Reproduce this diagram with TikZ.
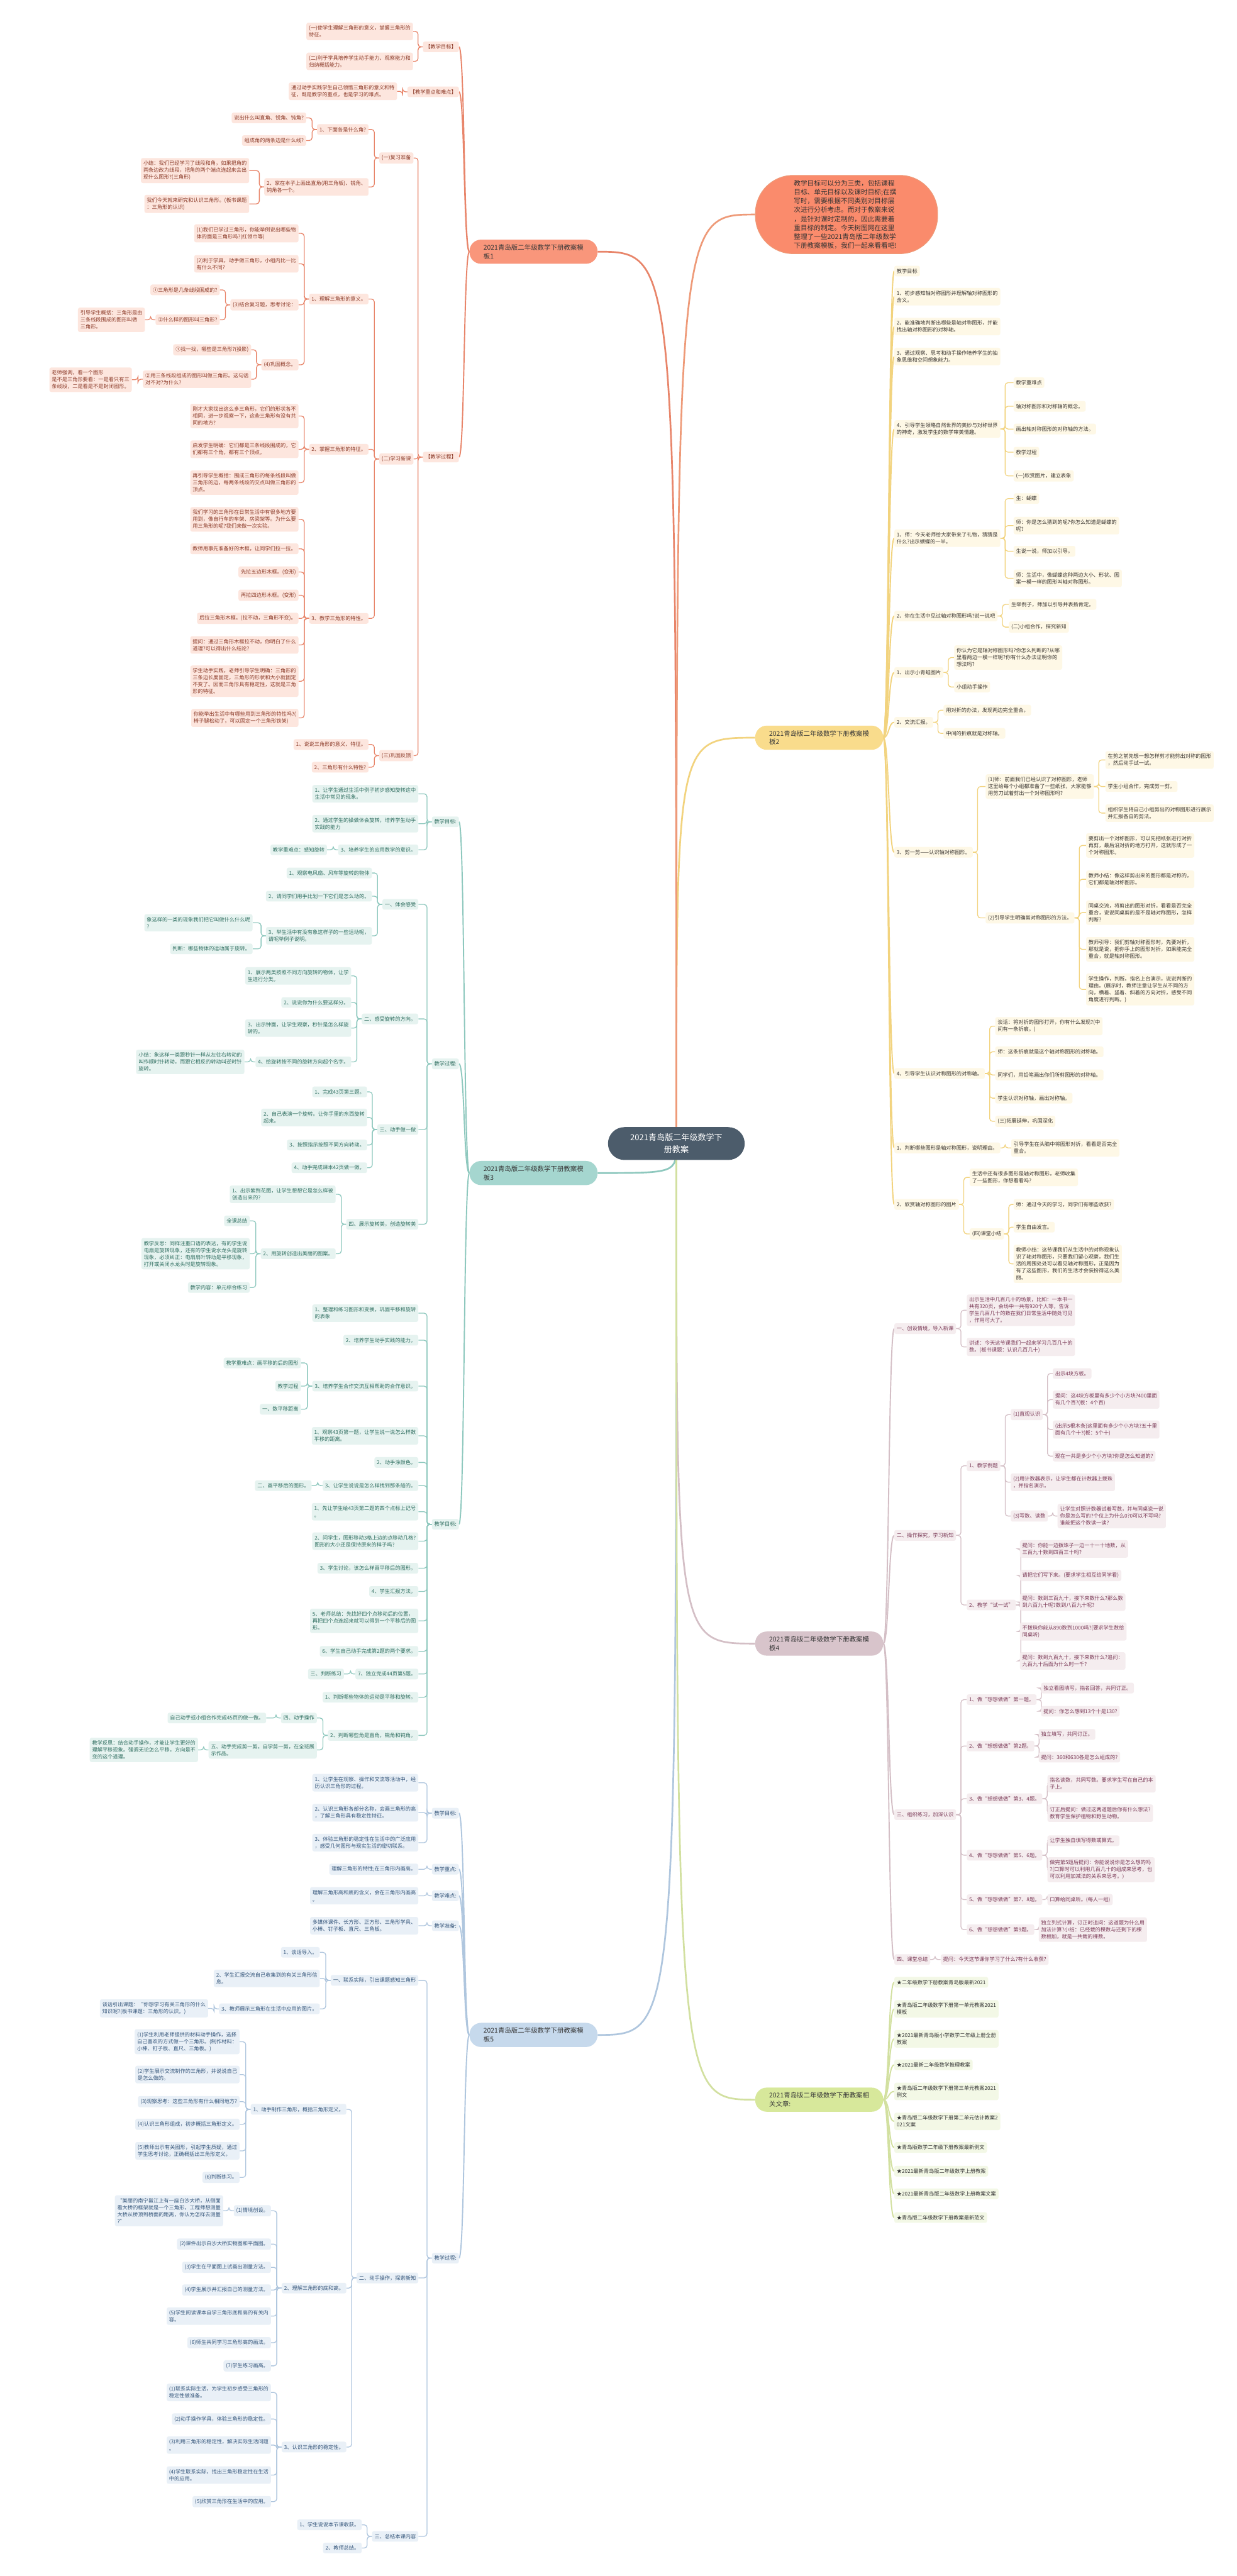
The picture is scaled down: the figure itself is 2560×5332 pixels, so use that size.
\documentclass[tikz,border=0pt]{standalone}
\usepackage{fontspec}
\setmainfont{Noto Sans CJK SC}
\usetikzlibrary{backgrounds}
\definecolor{b1f}{HTML}{FDE6DE}\definecolor{b1t}{HTML}{8B3A28}\definecolor{b1l}{HTML}{E8856A}\definecolor{b1n}{HTML}{F9967B}
\definecolor{b3f}{HTML}{E6F3F0}\definecolor{b3t}{HTML}{2F6E60}\definecolor{b3l}{HTML}{8EC8BE}\definecolor{b3n}{HTML}{A5D6CF}
\definecolor{b5f}{HTML}{E9F0F7}\definecolor{b5t}{HTML}{34557A}\definecolor{b5l}{HTML}{AFC6DE}\definecolor{b5n}{HTML}{C6D9EC}
\definecolor{b2f}{HTML}{FEF8E6}\definecolor{b2t}{HTML}{3A3530}\definecolor{b2l}{HTML}{F2D37E}\definecolor{b2n}{HTML}{F9DC8C}
\definecolor{b4f}{HTML}{F5EDEF}\definecolor{b4t}{HTML}{7B3A57}\definecolor{b4l}{HTML}{D4BFC6}\definecolor{b4n}{HTML}{D8C4CB}
\definecolor{b6f}{HTML}{F3F8E6}\definecolor{b6t}{HTML}{333333}\definecolor{b6l}{HTML}{D2E0A0}\definecolor{b6n}{HTML}{D7E89B}
\definecolor{cen}{HTML}{4C5C6B}\definecolor{introf}{HTML}{FA8B6C}\definecolor{introd}{HTML}{EE9A78}
\tikzset{
 mmbox/.style={rectangle, rounded corners=4pt, inner xsep=5pt, inner ysep=6pt, align=left, font=\fontsize{10.7}{14.3}\selectfont},
 B1/.style={mmbox, fill=b1f, text=b1t}, B3/.style={mmbox, fill=b3f, text=b3t}, B5/.style={mmbox, fill=b5f, text=b5t},
 B2/.style={mmbox, fill=b2f, text=b2t}, B4/.style={mmbox, fill=b4f, text=b4t}, B6/.style={mmbox, fill=b6f, text=b6t},
 L1/.style={B1, anchor=east}, L3/.style={B3, anchor=east}, L5/.style={B5, anchor=east},
 R2/.style={B2, anchor=west}, R4/.style={B4, anchor=west}, R6/.style={B6, anchor=west},
 brn/.style={rectangle, rounded corners=24pt, inner xsep=26pt, inner ysep=8pt, minimum width=265pt, minimum height=50pt, align=left, text=black!78, font=\fontsize{13.6}{18}\selectfont},
 k1/.style={draw=b1l, line width=1.7pt, rounded corners=6pt}, k3/.style={draw=b3l, line width=1.7pt, rounded corners=6pt}, k5/.style={draw=b5l, line width=1.7pt, rounded corners=6pt},
 k2/.style={draw=b2l, line width=1.7pt, rounded corners=6pt}, k4/.style={draw=b4l, line width=1.7pt, rounded corners=6pt}, k6/.style={draw=b6l, line width=1.7pt, rounded corners=6pt},
}
\newcommand\lbr[3]{\draw[#1] (#2.west) -- ++(-10,0) |- (#3.east);}
\newcommand\rbr[3]{\draw[#1] (#2.east) -- ++(10,0) |- (#3.west);}
\newcommand\lcv[3]{\draw[#1, line width=2.5pt] (#2.west) .. controls +(-12,0) and +(12,0) .. (#3.east);}
\newcommand\rcv[3]{\draw[#1, line width=2.5pt] (#2.east) .. controls +(12,0) and +(-12,0) .. (#3.west);}
\newcommand\ccv[2]{\draw[#1, line width=3.5pt] (center.center) .. controls (center.center |- #2) .. (#2);}
\begin{document}
\begin{tikzpicture}[x=1pt,y=-1pt]
\useasboundingbox (0,0) rectangle (2560,5332);
\begin{pgfonlayer}{background}
\fill[white] (0,0) rectangle (2560,5332);
\end{pgfonlayer}
% center
\node[rectangle, rounded corners=34pt, fill=cen, text=white, minimum width=283pt, minimum height=68pt, align=center, font=\fontsize{17}{25}\selectfont] (center) at (1400,2367) {2021青岛版二年级数学下\\册教案};
% branch nodes
\node[brn, fill=b1n, anchor=east] (br1) at (1237,521) {2021青岛版二年级数学下册教案模\\板1};
\node[brn, fill=b3n, anchor=east] (br3) at (1237,2428) {2021青岛版二年级数学下册教案模\\板3};
\node[brn, fill=b5n, anchor=east] (br5) at (1237,4212) {2021青岛版二年级数学下册教案模\\板5};
\node[brn, fill=b2n, anchor=west] (br2) at (1563,1527) {2021青岛版二年级数学下册教案模\\板2};
\node[brn, fill=b4n, anchor=west] (br4) at (1563,3402) {2021青岛版二年级数学下册教案模\\板4};
\node[brn, fill=b6n, anchor=west] (br6) at (1563,4346) {2021青岛版二年级数学下册教案相\\关文章:};
\node[rectangle, rounded corners=78pt, fill=introf, draw=introd, line width=1.5pt, minimum width=377pt, minimum height=162pt, text width=218pt, align=left, font=\fontsize{13.9}{18.5}\selectfont, text=black!80, anchor=west] (intro) at (1563,444) {教学目标可以分为三类，包括课程\\目标、单元目标以及课时目标;在撰\\写时，需要根据不同类别对目标层\\次进行分析考虑。而对于教案来说\\，是针对课时定制的，因此需要着\\重目标的制定。今天树图网在这里\\整理了一些2021青岛版二年级数学\\下册教案模板，我们一起来看看吧!};
\begin{pgfonlayer}{background}
\ccv{b1l}{br1.east}\ccv{b3l}{br3.east}\ccv{b5l}{br5.east}
\ccv{b2l}{br2.west}\ccv{b4l}{br4.west}\ccv{b6l}{br6.west}\ccv{introd}{intro.west}
\end{pgfonlayer}

% ================= Branch 1 =================
\node[L1] (p1g) at (950,97) {【教学目标】};
\node[L1] (p1k) at (950,190) {【教学重点和难点】};
\node[L1] (p1p) at (950,946) {【教学过程】};
\node[L1] (g1) at (855,65) {(一)使学生理解三角形的意义，掌握三角形的\\特征。};
\node[L1] (g2) at (855,127) {(二)利于学具培养学生动手能力、观察能力和\\归纳概括能力。};
\node[L1] (k1) at (822,189) {通过动手实践学生自己领悟三角形的意义和特\\征，既是教学的重点，也是学习的难点。};
\node[L1] (s1) at (856,327) {(一)复习准备};
\node[L1] (s2) at (856,950) {(二)学习新课};
\node[L1] (s3) at (856,1564) {(三)巩固反馈};
\node[L1] (s1a) at (763,268) {1、下面各是什么角?};
\node[L1] (s1b) at (763,387) {2、家在本子上画出直角(用三角板)、锐角、\\钝角各一个。};
\node[L1] (s1a1) at (634,244) {说出什么叫直角、锐角、钝角?};
\node[L1] (s1a2) at (634,291) {组成角的两条边是什么线?};
\node[L1] (s1b1) at (516,353) {小结：我们已经学习了线段和角，如果把角的\\两条边改为线段，把角的两个端点连起来会出\\现什么图形?(三角形)};
\node[L1] (s1b2) at (516,422) {我们今天就来研究和认识三角形。(板书课题\\：三角形的认识)};
\node[L1] (s2a) at (763,619) {1、理解三角形的意义。};
\node[L1] (s2b) at (763,930) {2、掌握三角形的特征。};
\node[L1] (s2c) at (763,1280) {3、教学三角形的特性。};
\node[L1] (s2a1) at (618,483) {(1)我们已学过三角形，你能举例说出哪些物\\体的面是三角形吗?(红领巾等)};
\node[L1] (s2a2) at (618,546) {(2)利于学具，动手做三角形，小组内比一比\\有什么不同?};
\node[L1] (s2a3) at (618,631) {(3)结合复习题，思考讨论：};
\node[L1] (s2a4) at (618,755) {(4)巩固概念。};
\node[L1] (s2a3a) at (455,600) {①三角形是几条线段围成的?};
\node[L1] (s2a3b) at (455,662) {②什么样的图形叫三角形?};
\node[L1] (s2a3b1) at (300,662) {引导学生概括：三角形是由\\三条线段围成的图形叫做\\三角形。};
\node[L1] (s2a4a) at (520,724) {①找一找，哪些是三角形?(投影)};
\node[L1] (s2a4b) at (520,785) {②用三条线段组成的图形叫做三角形。这句话\\对不对?为什么?};
\node[L1] (s2a4b1) at (273,786) {老师强调，看一个图形\\是不是三角形要看：一是看只有三\\条线段，二是看是不是封闭图形。};
\node[L1] (s2b1) at (618,861) {刚才大家找出这么多三角形，它们的形状各不\\相同，进一步观察一下，这些三角形有没有共\\同的地方?};
\node[L1] (s2b2) at (618,930) {启发学生明确：它们都是三条线段围成的，它\\们都有三个角，都有三个顶点。};
\node[L1] (s2b3) at (618,999) {再引导学生概括：围成三角形的每条线段叫做\\三角形的边，每两条线段的交点叫做三角形的\\顶点。};
\node[L1] (c1) at (618,1075) {我们学习的三角形在日常生活中有很多地方要\\用到，像自行车的车架、房梁架等。为什么要\\用三角形的呢?我们来做一次实验。};
\node[L1] (c2) at (618,1136) {教师用事先准备好的木框，让同学们拉一拉。};
\node[L1] (c3) at (618,1184) {先拉五边形木框。(变形)};
\node[L1] (c4) at (618,1232) {再拉四边形木框。(变形)};
\node[L1] (c5) at (618,1280) {后拉三角形木框。(拉不动，三角形不变)。};
\node[L1] (c6) at (618,1335) {提问：通过三角形木框拉不动，你明白了什么\\道理?可以得出什么结论?};
\node[L1] (c7) at (618,1410) {学生动手实践，老师引导学生明确：三角形的\\三条边长度固定，三角形的形状和大小就固定\\不变了。因而三角形具有稳定性，这就是三角\\形的特征。};
\node[L1] (c8) at (618,1486) {你能举出生活中有哪些用到三角形的特性吗?(\\椅子腿松动了，可以固定一个三角形铁架)};
\node[L1] (s3a) at (763,1541) {1、说说三角形的意义、特征。};
\node[L1] (s3b) at (763,1588) {2、三角形有什么特性?};
\begin{pgfonlayer}{background}
\lcv{b1l}{br1}{p1g}\lcv{b1l}{br1}{p1k}\lcv{b1l}{br1}{p1p}
\lbr{k1}{p1g}{g1}\lbr{k1}{p1g}{g2}\lbr{k1}{p1k}{k1}
\lbr{k1}{p1p}{s1}\lbr{k1}{p1p}{s2}\lbr{k1}{p1p}{s3}
\lbr{k1}{s1}{s1a}\lbr{k1}{s1}{s1b}\lbr{k1}{s1a}{s1a1}\lbr{k1}{s1a}{s1a2}\lbr{k1}{s1b}{s1b1}\lbr{k1}{s1b}{s1b2}
\lbr{k1}{s2}{s2a}\lbr{k1}{s2}{s2b}\lbr{k1}{s2}{s2c}
\lbr{k1}{s2a}{s2a1}\lbr{k1}{s2a}{s2a2}\lbr{k1}{s2a}{s2a3}\lbr{k1}{s2a}{s2a4}
\lbr{k1}{s2a3}{s2a3a}\lbr{k1}{s2a3}{s2a3b}\lbr{k1}{s2a3b}{s2a3b1}
\lbr{k1}{s2a4}{s2a4a}\lbr{k1}{s2a4}{s2a4b}\lbr{k1}{s2a4b}{s2a4b1}
\lbr{k1}{s2b}{s2b1}\lbr{k1}{s2b}{s2b2}\lbr{k1}{s2b}{s2b3}
\foreach \n in {c1,c2,c3,c4,c5,c6,c7,c8}{\lbr{k1}{s2c}{\n}}
\lbr{k1}{s3}{s3a}\lbr{k1}{s3}{s3b}
\end{pgfonlayer}

% ================= Branch 3 =================
\node[L3] (tg) at (950,1701) {教学目标:};
\node[L3] (tp) at (950,2202) {教学过程:};
\node[L3] (tg2) at (950,3155) {教学目标:};
\node[L3] (tg1) at (866,1643) {1、让学生通过生活中例子初步感知旋转这中\\生活中常见的现象。};
\node[L3] (tg2x) at (866,1705) {2、通过学生的操做体会旋转，培养学生动手\\实践的能力};
\node[L3] (tg3) at (866,1759) {3、培养学生的应用数学的意识。};
\node[L3] (tg3a) at (677,1759) {教学重难点：感知旋转};
\node[L3] (tp1) at (866,1872) {一、体会感受};
\node[L3] (tp2) at (866,2109) {二、感受旋转的方向。};
\node[L3] (tp3) at (866,2338) {三、动手做一做};
\node[L3] (tp4) at (866,2534) {四、展示旋转美，创造旋转美};
\node[L3] (tp1a) at (770,1807) {1、观察电风扇、风车等旋转的物体};
\node[L3] (tp1b) at (770,1855) {2、请同学们用手比划一下它们是怎么动的。};
\node[L3] (tp1c) at (770,1937) {3、举生活中有没有象这样子的一些运动呢，\\请呢举例子说明。};
\node[L3] (tp1c1) at (523,1910) {象这样的一类的现象我们把它叫做什么什么呢\\?};
\node[L3] (tp1c2) at (523,1964) {判断：哪些物体的运动属于旋转。};
\node[L3] (tp2a) at (727,2020) {1、展示两类按照不同方向旋转的物体，让学\\生进行分类。};
\node[L3] (tp2b) at (727,2075) {2、说说你为什么要这样分。};
\node[L3] (tp2c) at (727,2128) {3、出示钟面，让学生观察，秒针是怎么样旋\\转的。};
\node[L3] (tp2d) at (727,2198) {4、给旋转按不同的旋转方向起个名字。};
\node[L3] (tp2d1) at (506,2198) {小结：象这样一类跟秒针一样从左往右转动的\\叫作顺时针转动，而跟它相反的转动叫逆时针\\旋转。};
\node[L3] (tp3a) at (760,2260) {1、完成43页第三题。};
\node[L3] (tp3b) at (760,2313) {2、自己表演一个旋转。让你手里的东西旋转\\起来。};
\node[L3] (tp3c) at (760,2370) {3、按照指示按照不同方向转动。};
\node[L3] (tp3d) at (760,2417) {4、动手完成课本42页做一做。};
\node[L3] (tp4a) at (695,2472) {1、出示紫荆花图，让学生想想它是怎么样被\\创造出来的?};
\node[L3] (tp4b) at (695,2595) {2、用旋转创造出美丽的图案。};
\node[L3] (tp4b1) at (517,2527) {全课总结};
\node[L3] (tp4b2) at (517,2595) {教学反思：同样注重口语的表达，有的学生说\\电扇是旋转现象，还有的学生说水龙头是旋转\\现象，必须纠正：电扇扇叶转动是平移现象，\\打开或关闭水龙头时是旋转现象。};
\node[L3] (tp4b3) at (517,2665) {教学内容：单元综合练习};
\node[L3] (u1) at (866,2718) {1、整理和练习图形和变换，巩固平移和旋转\\的表象};
\node[L3] (u2) at (866,2774) {2、培养学生动手实践的能力。};
\node[L3] (u3) at (866,2869) {3、培养学生合作交流互相帮助的合作意识。};
\node[L3] (u3a) at (623,2821) {教学重难点：画平移的后的图形};
\node[L3] (u3b) at (623,2869) {教学过程};
\node[L3] (u3c) at (623,2917) {一、数平移距离};
\node[L3] (u4) at (866,2972) {1、观察43页第一题，让学生说一说怎么样数\\平移的距离。};
\node[L3] (u5) at (866,3027) {2、动手涂颜色。};
\node[L3] (u6) at (866,3075) {3、让学生说说是怎么样找到那条船的。};
\node[L3] (u6a) at (645,3075) {二、画平移后的图形。};
\node[L3] (u7) at (866,3129) {1、先让学生给43页第二题的四个点标上记号\\。};
\node[L3] (u8) at (866,3190) {2、问学生，图形移动3格上边的点移动几格?\\图形的大小还是保持原来的样子吗?};
\node[L3] (u9) at (866,3246) {3、学生讨论，该怎么样画平移后的图形。};
\node[L3] (u10) at (866,3294) {4、学生汇报方法。};
\node[L3] (u11) at (866,3355) {5、老师总结：先找好四个点移动后的位置，\\再把四个点连起来就可以得到一个平移后的图\\形。};
\node[L3] (u12) at (866,3418) {6、学生自己动手完成第2题的两个要求。};
\node[L3] (u13) at (866,3465) {7、独立完成44页第5题。};
\node[L3] (u13a) at (712,3465) {三、判断练习};
\node[L3] (u14) at (866,3513) {1、判断哪些物体的运动是平移和旋转。};
\node[L3] (u15) at (866,3592) {2、判断哪些角是直角，锐角和钝角。};
\node[L3] (u15a) at (656,3556) {四、动手操作};
\node[L3] (u15a1) at (551,3556) {自己动手或小组合作完成45页的做一做。};
\node[L3] (u15b) at (656,3622) {五、动手完成剪一剪。自学剪一剪，在全班展\\示作品。};
\node[L3] (u15b1) at (410,3622) {教学反思：结合动手操作，才能让学生更好的\\理解平移现象。强调无论怎么平移，方向是不\\变的这个道理。};
\begin{pgfonlayer}{background}
\lcv{b3l}{br3}{tg}\lcv{b3l}{br3}{tp}\lcv{b3l}{br3}{tg2}
\lbr{k3}{tg}{tg1}\lbr{k3}{tg}{tg2x}\lbr{k3}{tg}{tg3}\lbr{k3}{tg3}{tg3a}
\lbr{k3}{tp}{tp1}\lbr{k3}{tp}{tp2}\lbr{k3}{tp}{tp3}\lbr{k3}{tp}{tp4}
\lbr{k3}{tp1}{tp1a}\lbr{k3}{tp1}{tp1b}\lbr{k3}{tp1}{tp1c}\lbr{k3}{tp1c}{tp1c1}\lbr{k3}{tp1c}{tp1c2}
\lbr{k3}{tp2}{tp2a}\lbr{k3}{tp2}{tp2b}\lbr{k3}{tp2}{tp2c}\lbr{k3}{tp2}{tp2d}\lbr{k3}{tp2d}{tp2d1}
\lbr{k3}{tp3}{tp3a}\lbr{k3}{tp3}{tp3b}\lbr{k3}{tp3}{tp3c}\lbr{k3}{tp3}{tp3d}
\lbr{k3}{tp4}{tp4a}\lbr{k3}{tp4}{tp4b}\lbr{k3}{tp4b}{tp4b1}\lbr{k3}{tp4b}{tp4b2}\lbr{k3}{tp4b}{tp4b3}
\foreach \n in {u1,u2,u3,u4,u5,u6,u7,u8,u9,u10,u11,u12,u13,u14,u15}{\lbr{k3}{tg2}{\n}}
\lbr{k3}{u3}{u3a}\lbr{k3}{u3}{u3b}\lbr{k3}{u3}{u3c}\lbr{k3}{u6}{u6a}\lbr{k3}{u13}{u13a}
\lbr{k3}{u15}{u15a}\lbr{k3}{u15}{u15b}\lbr{k3}{u15a}{u15a1}\lbr{k3}{u15b}{u15b1}
\end{pgfonlayer}

% ================= Branch 5 =================
\node[L5] (vg) at (950,3753) {教学目标:};
\node[L5] (vk) at (950,3869) {教学重点:};
\node[L5] (vd) at (950,3924) {教学难点:};
\node[L5] (vp) at (950,3986) {教学准备:};
\node[L5] (vq) at (950,4674) {教学过程:};
\node[L5] (vg1) at (866,3690) {1、让学生在观察、操作和交流等活动中，经\\历认识三角形的过程。};
\node[L5] (vg2) at (866,3752) {2、认识三角形各部分名称，会画三角形的高\\，了解三角形具有稳定性特征。};
\node[L5] (vg3) at (866,3814) {3、体验三角形的稳定性在生活中的广泛应用\\，感受几何图形与现实生活的密切联系。};
\node[L5] (vk1) at (866,3869) {理解三角形的特性;在三角形内画高。};
\node[L5] (vd1) at (866,3924) {理解三角形高和底的含义，会在三角形内画高\\。};
\node[L5] (vp1) at (866,3986) {多媒体课件、长方形、正方形、三角形学具、\\小棒、钉子板、直尺、三角板。};
\node[L5] (vq1) at (866,4099) {一、联系实际，引出课题感知三角形};
\node[L5] (vq2) at (866,4715) {二、动手操作，探索新知};
\node[L5] (vq3) at (866,5250) {三、总结本课内容};
\node[L5] (vq1a) at (662,4041) {1、谈话导入。};
\node[L5] (vq1b) at (662,4095) {2、学生汇报交流自己收集到的有关三角形信\\息。};
\node[L5] (vq1c) at (662,4158) {3、教师展示三角形在生活中应用的图片。};
\node[L5] (vq1c1) at (431,4157) {谈话引出课题：“你想学习有关三角形的什么\\知识呢?(板书课题：三角形的认识。)};
\node[L5] (vq2a) at (717,4366) {1、动手制作三角形，概括三角形定义。};
\node[L5] (a1) at (496,4226) {(1)学生利用老师提供的材料动手操作，选择\\自己喜欢的方式做一个三角形。(制作材料：\\小棒、钉子板、直尺、三角板。)};
\node[L5] (a2) at (496,4294) {(2)学生展示交流制作的三角形，并说说自己\\是怎么做的。};
\node[L5] (a3) at (496,4350) {(3)观察思考：这些三角形有什么相同地方?};
\node[L5] (a4) at (496,4397) {(4)认识三角形组成，初步概括三角形定义。};
\node[L5] (a5) at (496,4452) {(5)教师出示有关图形，引起学生质疑，通过\\学生思考讨论，正确概括出三角形定义。};
\node[L5] (a6) at (496,4507) {(6)判断练习。};
\node[L5] (vq2b) at (717,4736) {2、理解三角形的底和高。};
\node[L5] (bb1) at (561,4576) {(1)情境创设。};
\node[L5] (bb1a) at (462,4576) {“美丽的南宁邕江上有一座白沙大桥，从侧面\\看大桥的框架就是一个三角形，工程师想测量\\大桥从桥顶到桥面的距离，你认为怎样去测量\\?”};
\node[L5] (bb2) at (561,4645) {(2)课件出示白沙大桥实物图和平面图。};
\node[L5] (bb3) at (561,4693) {(3)学生在平面图上试画出测量方法。};
\node[L5] (bb4) at (561,4740) {(4)学生展示并汇报自己的测量方法。};
\node[L5] (bb5) at (561,4794) {(5)学生阅读课本自学三角形底和高的有关内\\容。};
\node[L5] (bb6) at (561,4849) {(6)师生共同学习三角形高的画法。};
\node[L5] (bb7) at (561,4897) {(7)学生练习画高。};
\node[L5] (vq2c) at (717,5065) {3、认识三角形的稳定性。};
\node[L5] (cc1) at (561,4952) {(1)联系实际生活，为学生初步感受三角形的\\稳定性做准备。};
\node[L5] (cc2) at (561,5007) {(2)动手操作学具，体验三角形的稳定性。};
\node[L5] (cc3) at (561,5061) {(3)利用三角形的稳定性，解决实际生活问题\\。};
\node[L5] (cc4) at (561,5123) {(4)学生联系实际，找出三角形稳定性在生活\\中的应用。};
\node[L5] (cc5) at (561,5178) {(5)欣赏三角形在生活中的应用。};
\node[L5] (vq3a) at (749,5226) {1、学生说说本节课收获。};
\node[L5] (vq3b) at (749,5274) {2、教师总结。};
\begin{pgfonlayer}{background}
\lcv{b5l}{br5}{vg}\lcv{b5l}{br5}{vk}\lcv{b5l}{br5}{vd}\lcv{b5l}{br5}{vp}\lcv{b5l}{br5}{vq}
\lbr{k5}{vg}{vg1}\lbr{k5}{vg}{vg2}\lbr{k5}{vg}{vg3}\lbr{k5}{vk}{vk1}\lbr{k5}{vd}{vd1}\lbr{k5}{vp}{vp1}
\lbr{k5}{vq}{vq1}\lbr{k5}{vq}{vq2}\lbr{k5}{vq}{vq3}
\lbr{k5}{vq1}{vq1a}\lbr{k5}{vq1}{vq1b}\lbr{k5}{vq1}{vq1c}\lbr{k5}{vq1c}{vq1c1}
\lbr{k5}{vq2}{vq2a}\lbr{k5}{vq2}{vq2b}\lbr{k5}{vq2}{vq2c}
\foreach \n in {a1,a2,a3,a4,a5,a6}{\lbr{k5}{vq2a}{\n}}
\foreach \n in {bb1,bb2,bb3,bb4,bb5,bb6,bb7}{\lbr{k5}{vq2b}{\n}}
\lbr{k5}{bb1}{bb1a}
\foreach \n in {cc1,cc2,cc3,cc4,cc5}{\lbr{k5}{vq2c}{\n}}
\lbr{k5}{vq3}{vq3a}\lbr{k5}{vq3}{vq3b}
\end{pgfonlayer}

% ================= Branch 2 =================
\node[R2] (yg) at (1851,561) {教学目标};
\node[R2] (y1) at (1851,614) {1、初步感知轴对称图形并理解轴对称图形的\\含义。};
\node[R2] (y2) at (1851,676) {2、能准确地判断出哪些是轴对称图形，并能\\找出轴对称图形的对称轴。};
\node[R2] (y3) at (1851,738) {3、通过观察、思考和动手操作培养学生的抽\\象思维和空间想象能力。};
\node[R2] (y4) at (1851,888) {4、引导学生领略自然世界的美妙与对称世界\\的神奇，激发学生的数学审美情趣。};
\node[R2] (y4a) at (2098,792) {教学重难点};
\node[R2] (y4b) at (2098,841) {轴对称图形和对称轴的概念。};
\node[R2] (y4c) at (2098,888) {画出轴对称图形的对称轴的方法。};
\node[R2] (y4d) at (2098,936) {教学过程};
\node[R2] (y4e) at (2098,985) {(一)欣赏图片，建立表象};
\node[R2] (y5) at (1851,1114) {1、师：今天老师给大家带来了礼物，猜猜是\\什么?出示蝴蝶的一半。};
\node[R2] (y5a) at (2098,1032) {生：蝴蝶};
\node[R2] (y5b) at (2098,1088) {师：你是怎么猜到的呢?你怎么知道是蝴蝶的\\呢?};
\node[R2] (y5c) at (2098,1141) {生说一说，师加以引导。};
\node[R2] (y5d) at (2098,1197) {师：生活中，像蝴蝶这种两边大小、形状、图\\案一模一样的图形叫轴对称图形。};
\node[R2] (y6) at (1851,1275) {2、你在生活中见过轴对称图形吗?说一说吧};
\node[R2] (y6a) at (2088,1251) {生举例子，师加以引导并表扬肯定。};
\node[R2] (y6b) at (2088,1298) {(二)小组合作，探究新知};
\node[R2] (y7) at (1851,1392) {1、出示小青蛙图片};
\node[R2] (y7a) at (1975,1361) {你认为它是轴对称图形吗?你怎么判断的?从哪\\里看两边一模一样呢?你有什么办法证明你的\\想法吗?};
\node[R2] (y7b) at (1975,1422) {小组动手操作};
\node[R2] (y8) at (1851,1495) {2、交流汇报。};
\node[R2] (y8a) at (1953,1470) {用对折的办法，发现两边完全重合。};
\node[R2] (y8b) at (1953,1518) {中间的折痕就是对称轴。};
\node[R2] (y9) at (1851,1764) {3、剪一剪——认识轴对称图形。};
\node[R2] (y9a) at (2040,1628) {(1)师：前面我们已经认识了对称图形，老师\\这里给每个小组都准备了一些纸张，大家能够\\用剪刀试着剪出一个对称图形吗?};
\node[R2] (y9a1) at (2288,1573) {在剪之前先想一想怎样剪才能剪出对称的图形\\，然后动手试一试。};
\node[R2] (y9a2) at (2288,1628) {学生小组合作，完成剪一剪。};
\node[R2] (y9a3) at (2288,1683) {组织学生将自己小组剪出的对称图形进行展示\\并汇报各自的剪法。};
\node[R2] (y9b) at (2040,1900) {(2)引导学生明确剪对称图形的方法。};
\node[R2] (y9b1) at (2248,1750) {要剪出一个对称图形，可以先把纸张进行对折\\再剪，最后沿对折的地方打开，这就形成了一\\个对称图形。};
\node[R2] (y9b2) at (2248,1820) {教师小结：像这样剪出来的图形都是对称的，\\它们都是轴对称图形。};
\node[R2] (y9b3) at (2248,1889) {同桌交流，将剪出的图形对折，看看是否完全\\重合，说说同桌剪的是不是轴对称图形，怎样\\判断?};
\node[R2] (y9b4) at (2248,1965) {教师引导：我们剪轴对称图形时，先要对折，\\那就是说，把你手上的图形对折，如果能完全\\重合，就是轴对称图形。};
\node[R2] (y9b5) at (2248,2048) {学生操作，判断。指名上台演示，说说判断的\\理由。(展示时，教师注意让学生从不同的方\\向，横着、竖着、斜着的方向对折，感受不同\\角度进行判断。)};
\node[R2] (y10) at (1851,2222) {4、引导学生认识对称图形的对称轴。};
\node[R2] (y10a) at (2060,2124) {谈话：将对折的图形打开，你有什么发现?(中\\间有一条折痕。)};
\node[R2] (y10b) at (2060,2177) {师：这条折痕就是这个轴对称图形的对称轴。};
\node[R2] (y10c) at (2060,2225) {同学们，用铅笔画出你们所剪图形的对称轴。};
\node[R2] (y10d) at (2060,2273) {学生认识对称轴，画出对称轴。};
\node[R2] (y10e) at (2060,2321) {(三)拓展延伸，巩固深化};
\node[R2] (y11) at (1851,2376) {1、判断哪些图形是轴对称图形，说明理由。};
\node[R2] (y11a) at (2093,2376) {引导学生在头脑中将图形对折，看看是否完全\\重合。};
\node[R2] (y12) at (1851,2493) {2、欣赏轴对称图形的图片};
\node[R2] (y12a) at (2007,2437) {生活中还有很多图形是轴对称图形，老师收集\\了一些图形，你想看看吗?};
\node[R2] (y12b) at (2007,2554) {(四)课堂小结};
\node[R2] (y12b1) at (2098,2493) {师：通过今天的学习，同学们有哪些收获?};
\node[R2] (y12b2) at (2098,2540) {学生自由发言。};
\node[R2] (y12b3) at (2098,2616) {教师小结：这节课我们从生活中的对称现象认\\识了轴对称图形，只要我们留心观察，我们生\\活的周围处处可以看见轴对称图形，正是因为\\有了这些图形，我们的生活才会装扮得这么美\\丽。};
\begin{pgfonlayer}{background}
\foreach \n in {yg,y1,y2,y3,y4,y5,y6,y7,y8,y9,y10,y11,y12}{\rcv{b2l}{br2}{\n}}
\foreach \n in {y4a,y4b,y4c,y4d,y4e}{\rbr{k2}{y4}{\n}}
\foreach \n in {y5a,y5b,y5c,y5d}{\rbr{k2}{y5}{\n}}
\rbr{k2}{y6}{y6a}\rbr{k2}{y6}{y6b}\rbr{k2}{y7}{y7a}\rbr{k2}{y7}{y7b}\rbr{k2}{y8}{y8a}\rbr{k2}{y8}{y8b}
\rbr{k2}{y9}{y9a}\rbr{k2}{y9}{y9b}
\foreach \n in {y9a1,y9a2,y9a3}{\rbr{k2}{y9a}{\n}}
\foreach \n in {y9b1,y9b2,y9b3,y9b4,y9b5}{\rbr{k2}{y9b}{\n}}
\foreach \n in {y10a,y10b,y10c,y10d,y10e}{\rbr{k2}{y10}{\n}}
\rbr{k2}{y11}{y11a}\rbr{k2}{y12}{y12a}\rbr{k2}{y12}{y12b}
\foreach \n in {y12b1,y12b2,y12b3}{\rbr{k2}{y12b}{\n}}
\end{pgfonlayer}

% ================= Branch 4 =================
\node[R4] (m1) at (1851,2750) {一、创设情境，导入新课};
\node[R4] (m1a) at (2001,2712) {出示生活中几百几十的场景，比如：一本书一\\共有320页，会场中一共有920个人等，告诉\\学生几百几十的数在我们日常生活中随处可见\\，作用可大了。};
\node[R4] (m1b) at (2001,2788) {讲述：今天这节课我们一起来学习几百几十的\\数。(板书课题：认识几百几十)};
\node[R4] (m2) at (1851,3178) {二、操作探究，学习新知};
\node[R4] (m2a) at (2001,3034) {1、教学例题};
\node[R4] (m2a1) at (2092,2928) {(1)直观认识};
\node[R4] (m2a1a) at (2179,2843) {出示4块方板。};
\node[R4] (m2a1b) at (2179,2897) {提问：这4块方板里有多少个小方块?400里面\\有几个百?(板：4个百)};
\node[R4] (m2a1c) at (2179,2959) {(出示5根木条)这里面有多少个小方块?五十里\\面有几个十?(板：5个十)};
\node[R4] (m2a1d) at (2179,3014) {现在一共是多少个小方块?你是怎么知道的?};
\node[R4] (m2a2) at (2092,3068) {(2)用计数器表示，让学生都在计数器上拨珠\\，并指名演示。};
\node[R4] (m2a3) at (2092,3138) {(3)写数、读数};
\node[R4] (m2a3a) at (2189,3138) {让学生对照计数器试着写数，并与同桌说一说\\你是怎么写的?个位上为什么0?0可以不写吗?\\谁能把这个数读一读?};
\node[R4] (m2b) at (2001,3322) {2、教学“试一试”};
\node[R4] (m2b1) at (2111,3206) {提问：你能一边拨珠子一边一十一十地数，从\\三百九十数到四百三十吗?};
\node[R4] (m2b2) at (2111,3261) {请把它们写下来。(要求学生相互给同学看)};
\node[R4] (m2b3) at (2111,3316) {提问：数到三百九十，接下来数什么?那么数\\到六百九十呢?数到八百九十呢?};
\node[R4] (m2b4) at (2111,3377) {不拨珠你能从890数到1000吗?(要求学生数给\\同桌听)};
\node[R4] (m2b5) at (2111,3438) {提问：数到九百九十，接下来数什么?追问：\\九百九十后面为什么时一千?};
\node[R4] (m3) at (1851,3756) {三、组织练习，加深认识};
\node[R4] (m3a) at (2001,3518) {1、做“想想做做”第一题。};
\node[R4] (m3a1) at (2155,3494) {独立看图填写，指名回答，共同订正。};
\node[R4] (m3a2) at (2155,3542) {提问：你怎么想到13个十是130?};
\node[R4] (m3b) at (2001,3614) {2、做“想想做做”第2题。};
\node[R4] (m3b1) at (2150,3590) {独立填写，共同订正。};
\node[R4] (m3b2) at (2150,3637) {提问：360和630各是怎么组成的?};
\node[R4] (m3c) at (2001,3723) {3、做“想想做做”第3、4题。};
\node[R4] (m3c1) at (2168,3692) {指名读数，共同写数。要求学生写在自己的本\\子上。};
\node[R4] (m3c2) at (2168,3753) {订正后提问：做过这两道题后你有什么想法?\\教育学生保护植物和野生动物。};
\node[R4] (m3d) at (2001,3840) {4、做“想想做做”第5、6题。};
\node[R4] (m3d1) at (2168,3810) {让学生独自填写得数或算式。};
\node[R4] (m3d2) at (2168,3870) {做完第5题后提问：你能说说你是怎么想的吗\\?(口算时可以利用几百几十的组成来思考，也\\可以利用加减法的关系来思考。)};
\node[R4] (m3e) at (2001,3932) {5、做“想想做做”第7、8题。};
\node[R4] (m3e1) at (2168,3932) {口算给同桌听。(每人一组)};
\node[R4] (m3f) at (2001,3994) {6、做“想想做做”第9题。};
\node[R4] (m3f1) at (2150,3994) {独立列式计算，订正时追问：这道题为什么用\\加法计算?小结：已经栽的棵数与还剩下的棵\\数相加，就是一共栽的棵数。};
\node[R4] (m4) at (1851,4056) {四、课堂总结};
\node[R4] (m4a) at (1947,4056) {提问：今天这节课你学习了什么?有什么收获?};
\begin{pgfonlayer}{background}
\foreach \n in {m1,m2,m3,m4}{\rcv{b4l}{br4}{\n}}
\rbr{k4}{m1}{m1a}\rbr{k4}{m1}{m1b}\rbr{k4}{m2}{m2a}\rbr{k4}{m2}{m2b}
\rbr{k4}{m2a}{m2a1}\rbr{k4}{m2a}{m2a2}\rbr{k4}{m2a}{m2a3}
\foreach \n in {m2a1a,m2a1b,m2a1c,m2a1d}{\rbr{k4}{m2a1}{\n}}
\rbr{k4}{m2a3}{m2a3a}
\foreach \n in {m2b1,m2b2,m2b3,m2b4,m2b5}{\rbr{k4}{m2b}{\n}}
\foreach \n in {m3a,m3b,m3c,m3d,m3e,m3f}{\rbr{k4}{m3}{\n}}
\rbr{k4}{m3a}{m3a1}\rbr{k4}{m3a}{m3a2}\rbr{k4}{m3b}{m3b1}\rbr{k4}{m3b}{m3b2}
\rbr{k4}{m3c}{m3c1}\rbr{k4}{m3c}{m3c2}\rbr{k4}{m3d}{m3d1}\rbr{k4}{m3d}{m3d2}
\rbr{k4}{m3e}{m3e1}\rbr{k4}{m3f}{m3f1}\rbr{k4}{m4}{m4a}
\end{pgfonlayer}

% ================= Branch 6 =================
\node[R6] (w1) at (1851,4103) {★二年级数学下册教案青岛版最新2021};
\node[R6] (w2) at (1851,4158) {★青岛版二年级数学下册第一单元教案2021\\模板};
\node[R6] (w3) at (1851,4220) {★2021最新青岛版小学数学二年级上册全册\\教案};
\node[R6] (w4) at (1851,4274) {★2021最新二年级数学推理教案};
\node[R6] (w5) at (1851,4329) {★青岛版二年级数学下册第三单元教案2021\\例文};
\node[R6] (w6) at (1851,4391) {★青岛版二年级数学下册第二单元估计教案2\\021文案};
\node[R6] (w7) at (1851,4445) {★青岛版数学二年级下册教案最新例文};
\node[R6] (w8) at (1851,4494) {★2021最新青岛版二年级数学上册教案};
\node[R6] (w9) at (1851,4541) {★2021最新青岛版二年级数学上册教案文案};
\node[R6] (w10) at (1851,4590) {★青岛版二年级数学下册教案最新范文};
\begin{pgfonlayer}{background}
\foreach \n in {w1,w2,w3,w4,w5,w6,w7,w8,w9,w10}{\rcv{b6l}{br6}{\n}}
\end{pgfonlayer}
\end{tikzpicture}
\end{document}
